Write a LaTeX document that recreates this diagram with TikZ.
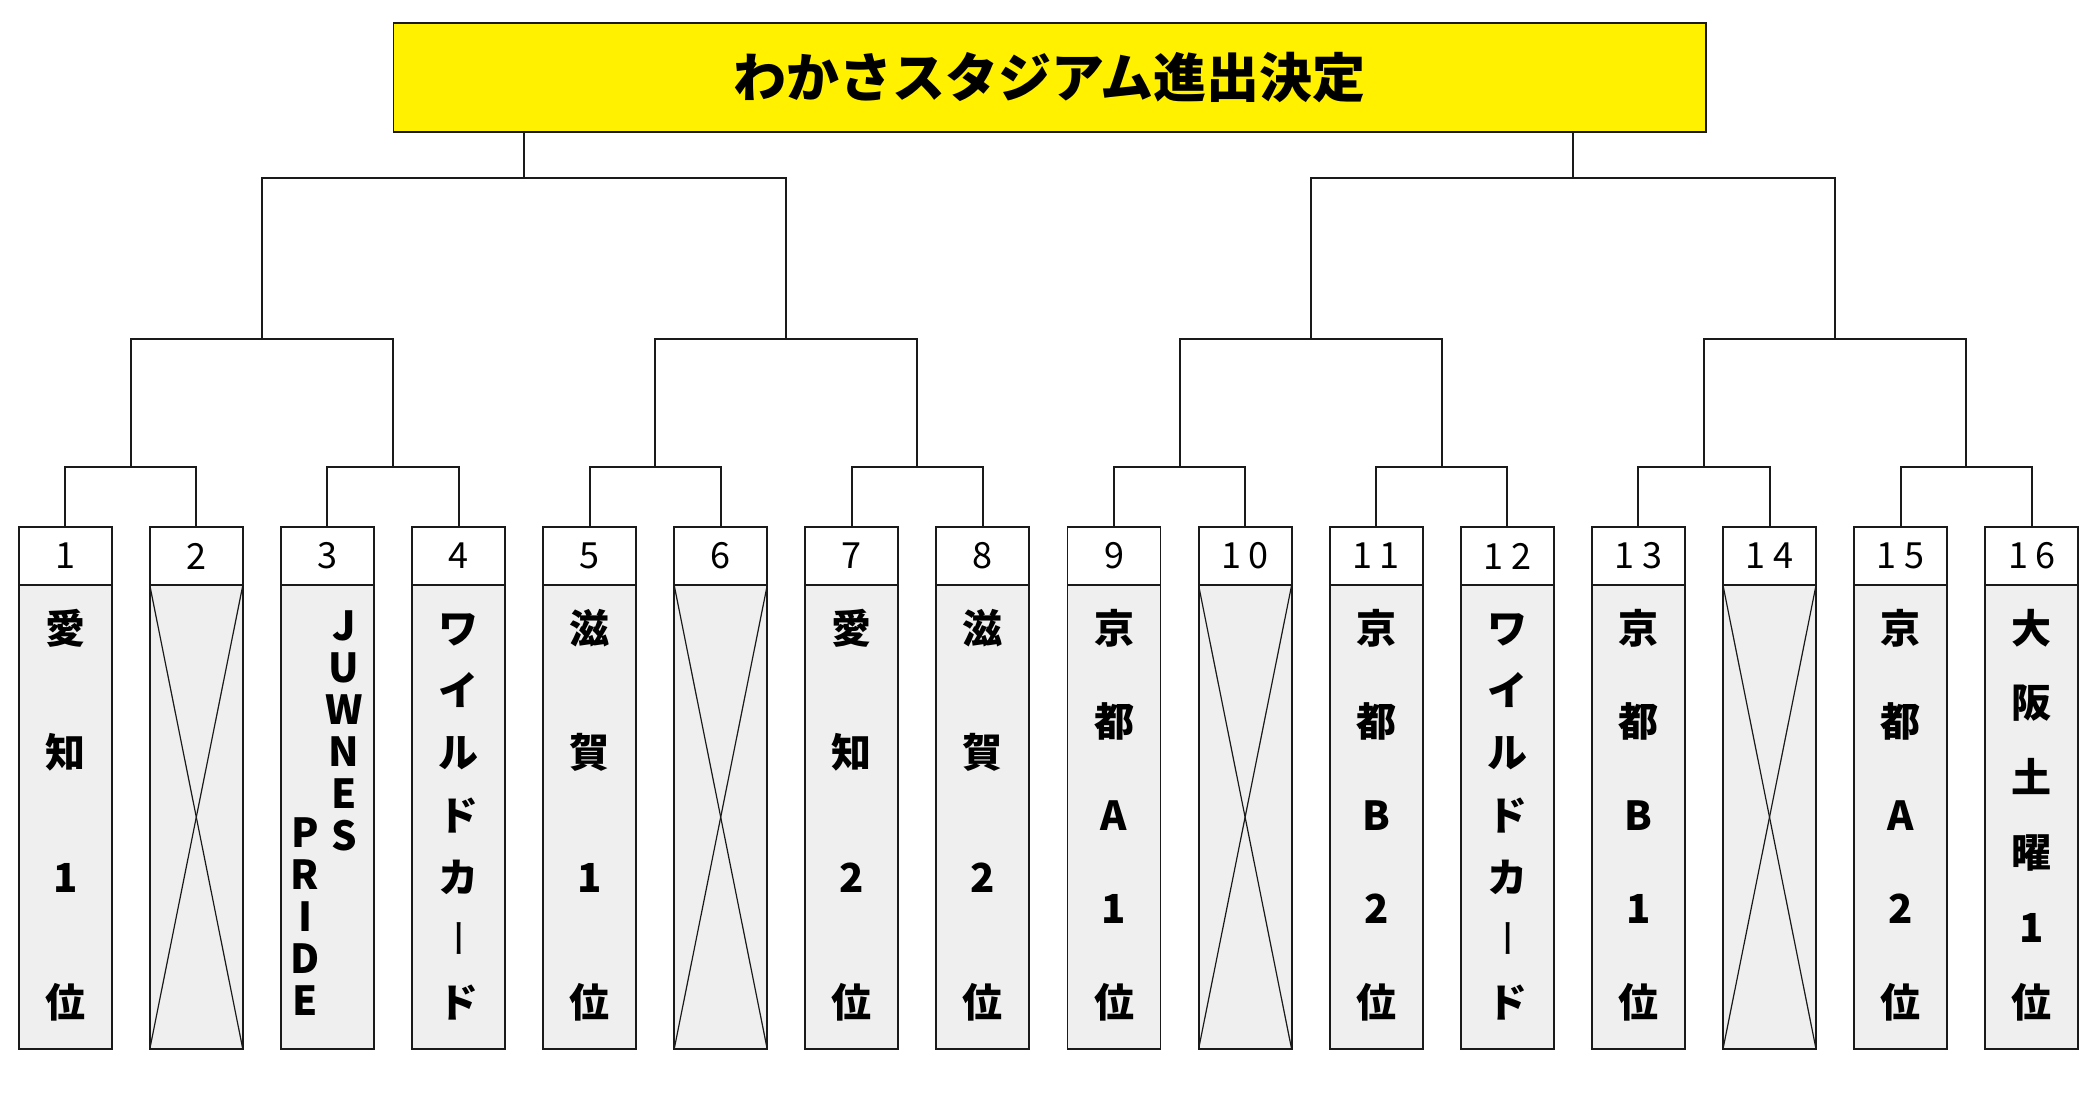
\documentclass[tikz,border=0pt]{standalone}
\usepackage{fontspec}
\usepackage{graphicx}
\newfontfamily\jp{Noto Sans CJK JP}
\usetikzlibrary{calc}
\definecolor{titleyellow}{HTML}{FFF100}
\definecolor{bodygray}{HTML}{EFEFEF}
\definecolor{inkc}{HTML}{1A1A1A}
\newcommand\numsp{\hspace{7.5pt}}
\newcommand\vbar{\rotatebox[origin=c]{90}{\raisebox{0pt}[32pt][0pt]{\mdseries ー}}}
% #1 box index, #2 number of characters, #3 list
\newcommand\vcol[3]{%
  \foreach \ch [count=\k] in {#3} {
    \pgfmathsetmacro\cx{65.2+(#1-1)*131.1}
    \pgfmathsetmacro\cy{627+(\k-1)*374/(#2-1)}
    \node[chr] (v#1-\k) at (\cx,\cy) {\ch};
  }%
}
\begin{document}
\begin{tikzpicture}[x=1pt,y=-1pt,
  hdr/.style={draw=inkc, fill=white, line width=1.9pt, minimum width=93pt,
    minimum height=58.6pt, inner sep=0pt, outer sep=0pt, anchor=north,
    font=\jp\fontsize{36}{36}\selectfont},
  bodyb/.style={draw=inkc, fill=bodygray, line width=1.9pt, minimum width=93pt,
    minimum height=463.7pt, inner sep=0pt, outer sep=0pt, anchor=north},
  conn/.style={draw=inkc, line width=2pt, line join=miter},
  crossline/.style={draw=inkc, line width=1.2pt},
  chr/.style={font=\jp\bfseries\fontsize{40}{40}\selectfont, inner sep=0pt,
    outer sep=0pt, anchor=center, text height=32pt, text depth=0pt},
  titlebox/.style={draw=inkc, fill=titleyellow, line width=1.9pt,
    minimum width=1312.5pt, minimum height=109pt, inner sep=0pt, outer sep=0pt,
    font=\jp\bfseries\fontsize{53}{53}\selectfont}
]
\useasboundingbox (0,0) rectangle (2100,1100);

% title
\node[titlebox] (T) at (1049.75,77.9) {わかさスタジアム進出決定};

% boxes
\foreach \i/\lab in {1/1,2/2,3/3,4/4,5/5,6/6,7/7,8/8,9/9,
    10/1\numsp0,11/1\numsp1,12/1\numsp2,13/1\numsp3,14/1\numsp4,15/1\numsp5,16/1\numsp6} {
  \pgfmathsetmacro\cx{65.2+(\i-1)*131.1}
  \node[hdr] (h\i) at (\cx,526.7) {\lab};
  \node[bodyb] (t\i) at (h\i.south) {};
}

% crossed-out boxes
\foreach \i in {2,6,10,14} {
  \draw[crossline] (t\i.north west) -- (t\i.south east);
  \draw[crossline] (t\i.north east) -- (t\i.south west);
}

% bracket junction coordinates
\foreach \k in {1,...,8} {
  \pgfmathsetmacro\mx{65.2+(2*\k-1.5)*131.1}
  \coordinate (a\k) at (\mx,467.3);
}
\foreach \k in {1,...,4} {
  \pgfmathsetmacro\mx{65.2+(4*\k-2.5)*131.1}
  \coordinate (b\k) at (\mx,338.5);
}
\foreach \k in {1,2} {
  \pgfmathsetmacro\mx{65.2+(8*\k-4.5)*131.1}
  \coordinate (c\k) at (\mx,178.3);
}

% connectors
\foreach \k [evaluate=\k as \l using int(2*\k-1), evaluate=\k as \r using int(2*\k)] in {1,...,8} {
  \draw[conn] (h\l.north) |- (a\k) -| (h\r.north);
}
\foreach \k [evaluate=\k as \l using int(2*\k-1), evaluate=\k as \r using int(2*\k)] in {1,...,4} {
  \draw[conn] (a\l) |- (b\k) -| (a\r);
}
\foreach \k [evaluate=\k as \l using int(2*\k-1), evaluate=\k as \r using int(2*\k)] in {1,2} {
  \draw[conn] (b\l) |- (c\k) -| (b\r);
}
\draw[conn] (c1) -- (c1 |- T.south);
\draw[conn] (c2) -- (c2 |- T.south);

% names
\vcol{1}{4}{愛,知,1,位}
\vcol{4}{7}{ワ,イ,ル,ド,カ,\vbar,ド}
\vcol{5}{4}{滋,賀,1,位}
\vcol{7}{4}{愛,知,2,位}
\vcol{8}{4}{滋,賀,2,位}
\vcol{9}{5}{京,都,A,1,位}
\vcol{11}{5}{京,都,B,2,位}
\vcol{12}{7}{ワ,イ,ル,ド,カ,\vbar,ド}
\vcol{13}{5}{京,都,B,1,位}
\vcol{15}{5}{京,都,A,2,位}
\vcol{16}{6}{大,阪,土,曜,1,位}

% JUWNES PRIDE (two vertical lines)
\foreach \ch [count=\k] in {J,U,W,N,E,S} {
  \pgfmathsetmacro\cy{624+(\k-1)*42}
  \node[chr] (ja-\k) at (344,\cy) {\ch};
}
\foreach \ch [count=\k] in {P,R,I,D,E} {
  \pgfmathsetmacro\cy{831+(\k-1)*42}
  \node[chr] (jb-\k) at (305,\cy) {\ch};
}
\end{tikzpicture}
\end{document}
